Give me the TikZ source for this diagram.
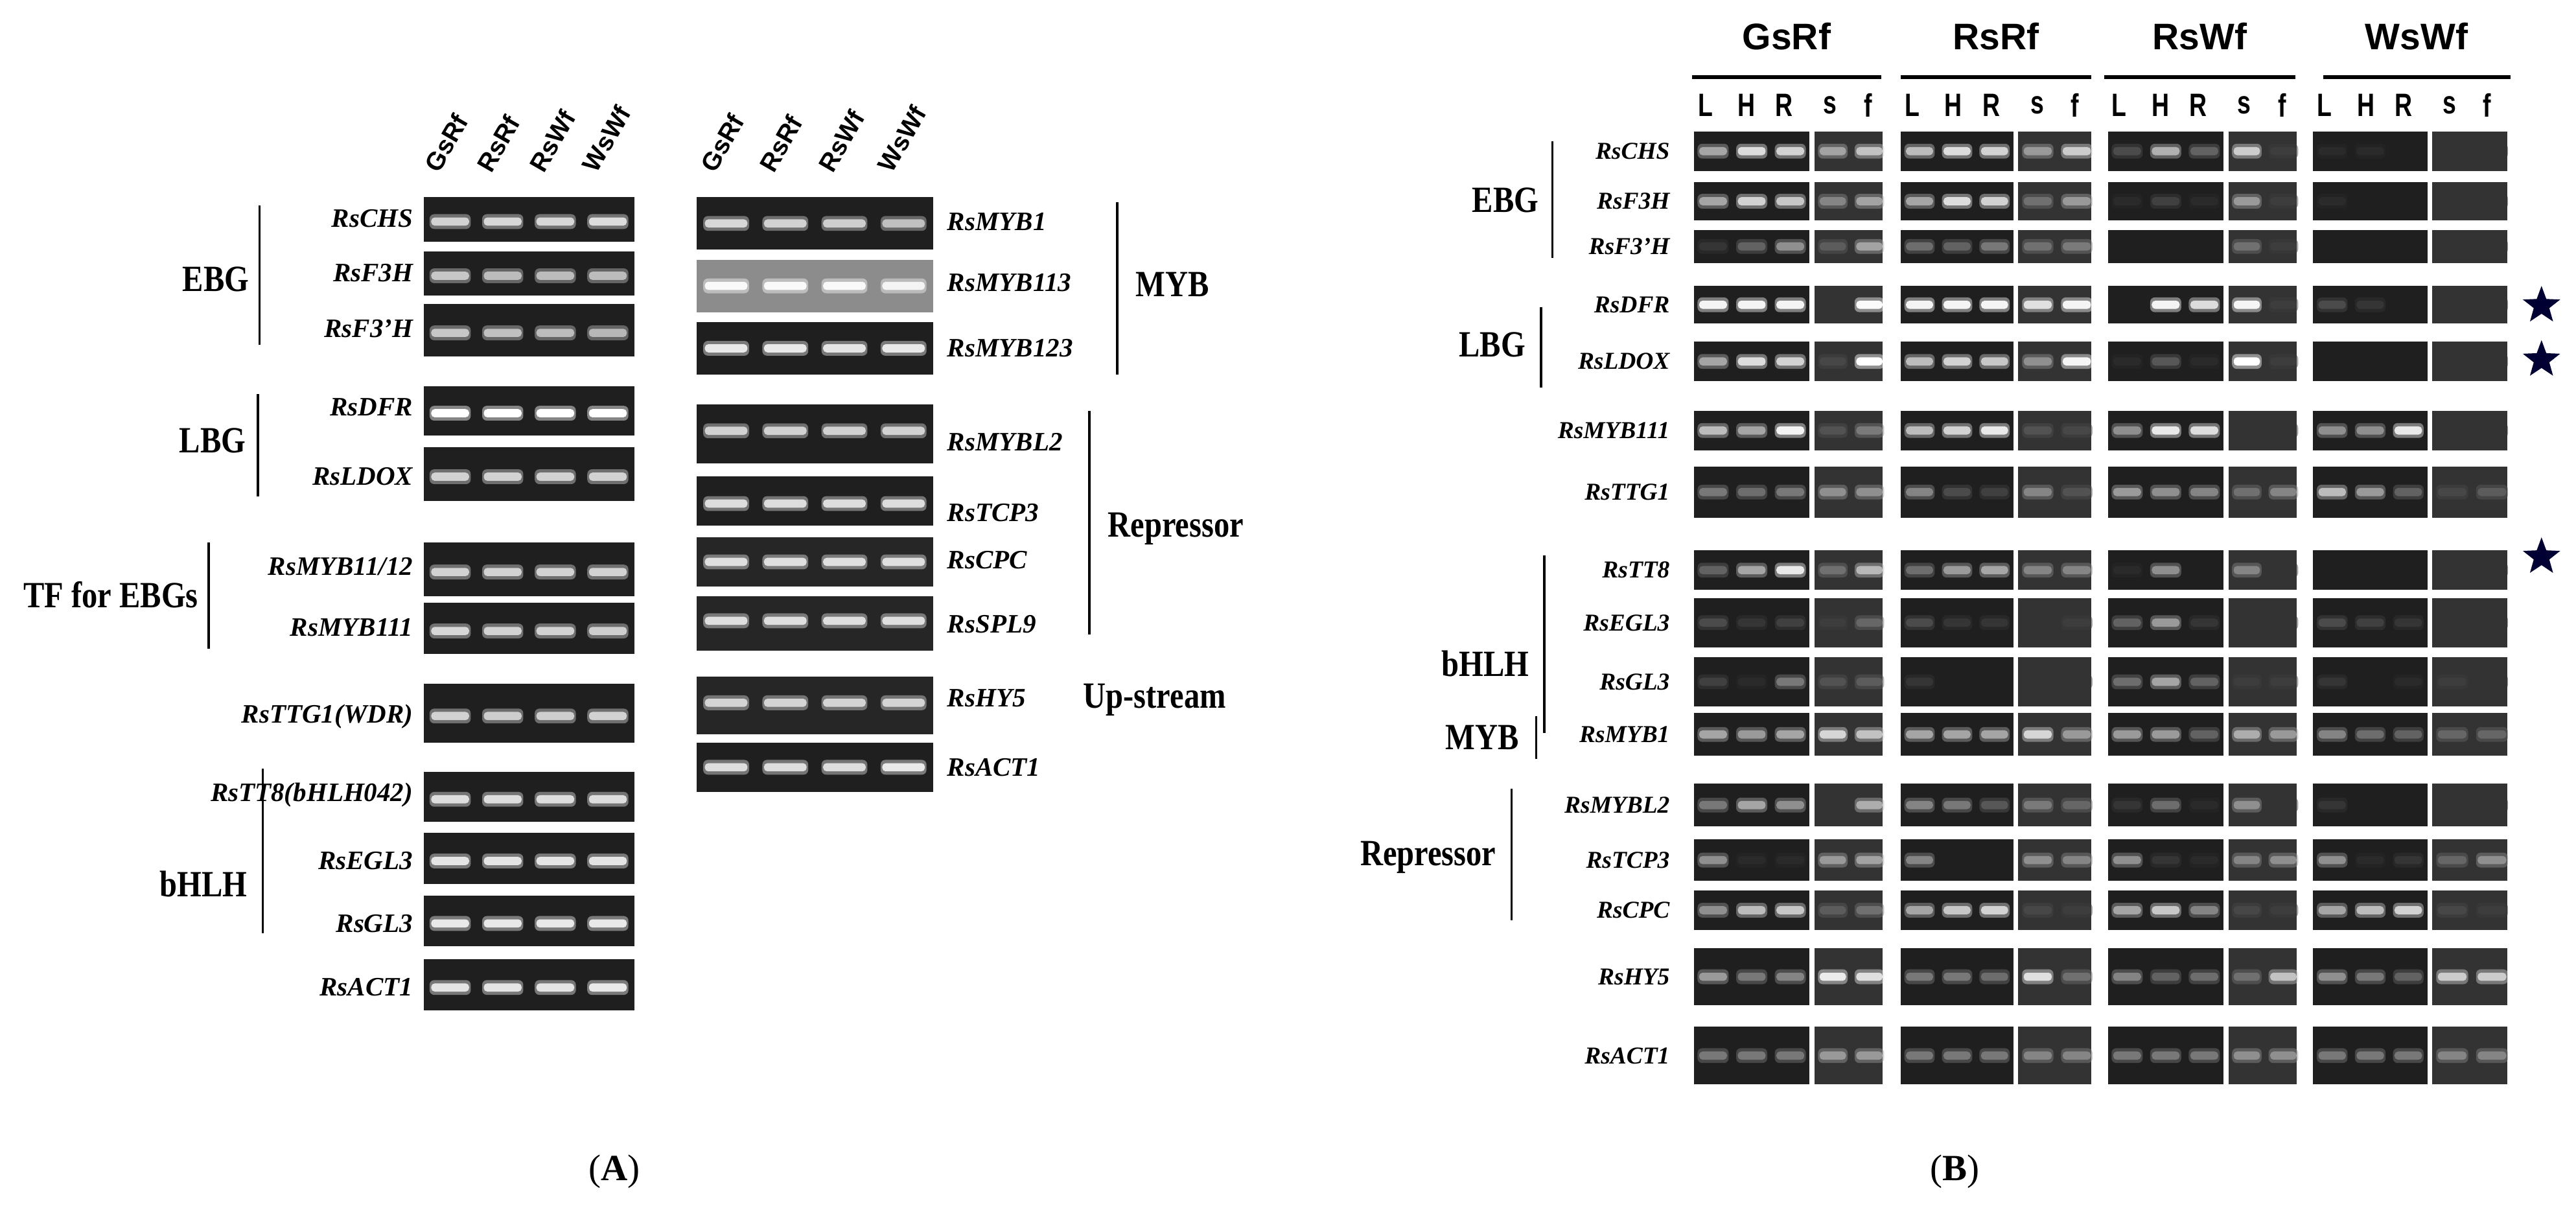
\documentclass[tikz,border=0pt]{standalone}
\usepackage{fontspec}
\setmainfont{Liberation Serif}
\newfontfamily\hsans{Liberation Sans}
\usetikzlibrary{shapes.geometric}
\newcommand\gelbox[8]{% x1 y1 x2 y2 frac n list bg
  \colorlet{gbg}{#8}%
  \fill[gbg] (#1,#2) rectangle (#3,#4);
  \edef\gl{#7}%
  \foreach \v [count=\i] in \gl {
    \pgfmathsetmacro\cx{#1+(\i-0.5)*(#3-#1)/#6}
    \pgfmathsetmacro\cy{#2+#5*(#4-#2)}
    \pgfmathsetmacro\hw{0.36*(#3-#1)/#6}
    \fill[white!\v!gbg, opacity=.45, rounded corners=2pt] (\cx-\hw-1,\cy-4.5) rectangle (\cx+\hw+1,\cy+4.5);
    \fill[white!\v!gbg, rounded corners=1.5pt] (\cx-\hw,\cy-2.5) rectangle (\cx+\hw,\cy+2.5);
  }}
\def\bsA#1,#2,#3,#4,#5\relax{\def\lhr{#1,#2,#3}\def\sff{#4,#5}}
\newcommand\bsamp[4]{\bsA#4\relax
  \gelbox{#1}{\ya}{#2-1.5}{\yb}{0.5}{3}{\lhr}{black!88}
  \gelbox{#2+1.5}{\ya}{#3}{\yb}{0.5}{2}{\sff}{black!80}}
\newcommand\brow[7]{\def\ya{#1}\def\yb{#2}%
  \bsamp{1031}{1103}{1146}{#3}\bsamp{1157}{1227}{1273}{#4}
  \bsamp{1283}{1355}{1398}{#5}\bsamp{1408}{1479}{1526}{#6}
  \node[gB, anchor=east] (B#7) at (1018,{(#1+#2)/2}) {#7};}
\newcommand\agel[4]{\gelbox{#1}{#2}{#1+128}{#3}{0.55}{4}{#4}{black!88}}
\begin{document}
\begin{tikzpicture}[x=0.025cm,y=-0.025cm,
  gA/.style={font=\fontsize{11.5}{12}\selectfont\bfseries\itshape, inner sep=1pt},
  gB/.style={font=\fontsize{10.5}{11}\selectfont\bfseries\itshape, inner sep=1pt},
  grp/.style={font=\fontsize{16}{17}\selectfont\bfseries, inner sep=1pt, xscale=.85},
  hd/.style={font=\hsans\fontsize{11}{12}\selectfont\bfseries, inner sep=0pt, rotate=60, anchor=base west},
  hB/.style={font=\hsans\fontsize{16}{17}\selectfont\bfseries, inner sep=0pt},
  ln/.style={font=\hsans\fontsize{14}{15}\selectfont\bfseries, inner sep=0pt, xscale=.75},
  br/.style={line width=1pt}]
\useasboundingbox (0,0) rectangle (1568,743);
\fill[white] (0,0) rectangle (1568,743);
% ---------- Panel A headers
\foreach \t [count=\i] in {GsRf,RsRf,RsWf,WsWf}{
  \node[hd] (hl\i) at ({258+(\i-0.5)*32-7},106) {\t};
  \node[hd] (hr\i) at ({424+(\i-0.5)*36-7},106) {\t};}
% ---------- Panel A left gels
\agel{258}{120}{147}{80,82,82,85}
\agel{258}{153}{180}{75,70,70,70}
\agel{258}{185}{217}{75,72,70,68}
\agel{258}{235}{265}{100,100,100,100}
\agel{258}{272}{305}{80,80,80,80}
\agel{258}{330}{363}{80,80,80,80}
\agel{258}{367}{398}{82,80,80,78}
\agel{258}{416}{452}{80,78,78,80}
\agel{258}{470}{500}{85,85,85,85}
\agel{258}{507}{538}{88,88,88,88}
\agel{258}{545}{576}{90,90,90,90}
\agel{258}{584}{615}{88,88,88,90}
\node[gA,anchor=east] (a1) at (253,133) {RsCHS};
\node[gA,anchor=east] (a2) at (253,166) {RsF3H};
\node[gA,anchor=east] (a3) at (253,200) {RsF3’H};
\node[gA,anchor=east] (a4) at (253,248) {RsDFR};
\node[gA,anchor=east] (a5) at (253,290) {RsLDOX};
\node[gA,anchor=east] (a6) at (253,345) {RsMYB11/12};
\node[gA,anchor=east] (a7) at (253,382) {RsMYB111};
\node[gA,anchor=east] (a8) at (253,436) {RsTTG1(WDR)};
\node[gA,anchor=east] (a9) at (253,484) {RsTT8(bHLH042)};
\node[gA,anchor=east] (a10) at (253,524) {RsEGL3};
\node[gA,anchor=east] (a11) at (253,562) {RsGL3};
\node[gA,anchor=east] (a12) at (253,601) {RsACT1};
\draw[br] (158,125) -- (158,210); \node[grp,anchor=east] (gEBG) at (153,170) {EBG};
\draw[br] (157,240) -- (157,302); \node[grp,anchor=east] (gLBG) at (151,268) {LBG};
\draw[br] (127,330) -- (127,395); \node[grp,anchor=east] (gTF) at (122,362) {TF for EBGs};
\draw[br] (160,468) -- (160,568); \node[grp,anchor=east] (gbH) at (152,538) {bHLH};
% ---------- Panel A right gels
\gelbox{424}{120}{568}{152}{0.5}{4}{82,80,78,72}{black!88}
\gelbox{424}{158}{568}{190}{0.5}{4}{95,95,95,90}{black!45}
\gelbox{424}{196}{568}{228}{0.5}{4}{90,90,88,90}{black!88}
\gelbox{424}{246}{568}{282}{0.45}{4}{80,80,80,80}{black!88}
\gelbox{424}{290}{568}{320}{0.55}{4}{85,85,85,85}{black!88}
\gelbox{424}{327}{568}{357}{0.5}{4}{85,85,85,85}{black!85}
\gelbox{424}{363}{568}{396}{0.45}{4}{85,85,85,85}{black!85}
\gelbox{424}{412}{568}{447}{0.45}{4}{80,80,80,80}{black!85}
\gelbox{424}{452}{568}{482}{0.5}{4}{85,85,85,90}{black!88}
\node[gA,anchor=west] (r1) at (575,135) {RsMYB1};
\node[gA,anchor=west] (r2) at (575,172) {RsMYB113};
\node[gA,anchor=west] (r3) at (575,212) {RsMYB123};
\node[gA,anchor=west] (r4) at (575,269) {RsMYBL2};
\node[gA,anchor=west] (r5) at (575,312) {RsTCP3};
\node[gA,anchor=west] (r6) at (575,341) {RsCPC};
\node[gA,anchor=west] (r7) at (575,380) {RsSPL9};
\node[gA,anchor=west] (r8) at (575,425) {RsHY5};
\node[gA,anchor=west] (r9) at (575,467) {RsACT1};
\draw[br] (680,123) -- (680,228); \node[grp,anchor=west] (gMYB) at (690,173) {MYB};
\draw[br] (663,250) -- (663,386); \node[grp,anchor=west] (gRep) at (673,322) {Repressor};
\node[grp,anchor=west] (gUp) at (658,426) {Up-stream};
\node[font=\fontsize{16}{17}\selectfont] (pA) at (374,713) {(\textbf{A})};
% ---------- Panel B headers
\foreach \t/\xa/\xb in {GsRf/1030/1145,RsRf/1157/1273,RsWf/1281/1397,WsWf/1414/1528}{
  \node[hB] (h\t) at ({(\xa+\xb)/2},22) {\t};
  \draw[line width=1.6pt] (\xa,47) -- (\xb,47);}
\foreach \xo in {1031,1157,1283,1408}{
  \foreach \l/\d in {L/7,H/32,R/55,s/83,f/106}{
    \node[ln] at (\xo+\d,64) {\l};}}
% ---------- Panel B rows
\brow{80}{104}{60,85,80,55,70}{70,85,80,50,75}{20,65,30,75,5}{5,5,0,0,0}{RsCHS}
\brow{111}{134}{60,80,75,40,55}{60,85,80,30,50}{5,15,5,50,5}{5,0,0,0,0}{RsF3H}
\brow{140}{160}{10,30,50,20,55}{35,30,40,30,35}{0,0,0,30,5}{0,0,0,0,0}{RsF3’H}
\brow{174}{197}{95,95,95,0,98}{95,95,95,85,95}{0,95,85,95,5}{20,10,0,0,0}{RsDFR}
\brow{208}{232}{60,85,80,10,100}{70,80,75,45,95}{5,25,5,100,5}{0,0,0,0,0}{RsLDOX}
\brow{250}{274}{70,60,95,15,35}{70,80,90,15,10}{50,90,85,0,0}{50,50,90,0,0}{RsMYB111}
\brow{284}{315}{40,35,40,45,45}{45,20,15,40,15}{55,50,45,30,40}{70,55,30,10,20}{RsTTG1}
\brow{335}{359}{30,60,90,30,65}{35,55,60,40,40}{5,50,0,40,0}{0,0,0,0,0}{RsTT8}
\brow{364}{394}{20,10,15,5,25}{20,10,10,0,5}{30,55,10,0,0}{20,15,10,0,0}{RsEGL3}
\brow{400}{430}{15,5,40,15,20}{10,0,0,0,0}{35,60,30,5,5}{10,0,5,5,0}{RsGL3}
\brow{434}{460}{60,55,60,80,70}{60,60,60,80,50}{55,55,30,60,50}{45,35,30,25,25}{RsMYB1}
\brow{477}{503}{40,60,50,0,60}{45,40,25,35,25}{10,35,5,45,0}{10,0,0,0,0}{RsMYBL2}
\brow{511}{536}{50,5,5,50,55}{45,0,0,45,40}{50,10,5,40,45}{50,5,10,25,45}{RsTCP3}
\brow{542}{566}{50,70,75,20,30}{60,75,80,10,5}{60,75,45,10,5}{60,70,80,10,5}{RsCPC}
\brow{577}{612}{55,40,45,90,85}{40,40,35,85,30}{45,30,35,30,70}{50,40,30,75,75}{RsHY5}
\brow{625}{660}{40,40,40,50,50}{40,40,40,40,40}{40,40,40,45,45}{40,40,40,40,40}{RsACT1}
\draw[br] (945,86) -- (945,157); \node[grp,anchor=east] (bEBG) at (938,122) {EBG};
\draw[br] (938,187) -- (938,236); \node[grp,anchor=east] (bLBG) at (930,210) {LBG};
\draw[br] (940,338) -- (940,446); \node[grp,anchor=east] (bbH) at (932,404) {bHLH};
\draw[br] (935,436) -- (935,462); \node[grp,anchor=east] (bMYB) at (926,449) {MYB};
\draw[br] (920,480) -- (920,560); \node[grp,anchor=east] (bRep) at (912,522) {Repressor};
\foreach \y [count=\i] in {186,219,339}{
  \node[star, star points=5, star point ratio=2.4, fill=black!80!blue, inner sep=0pt, minimum size=17pt] (st\i) at (1547,\y) {};}
\node[font=\fontsize{16}{17}\selectfont] (pB) at (1190,713) {(\textbf{B})};
\end{tikzpicture}
\end{document}
